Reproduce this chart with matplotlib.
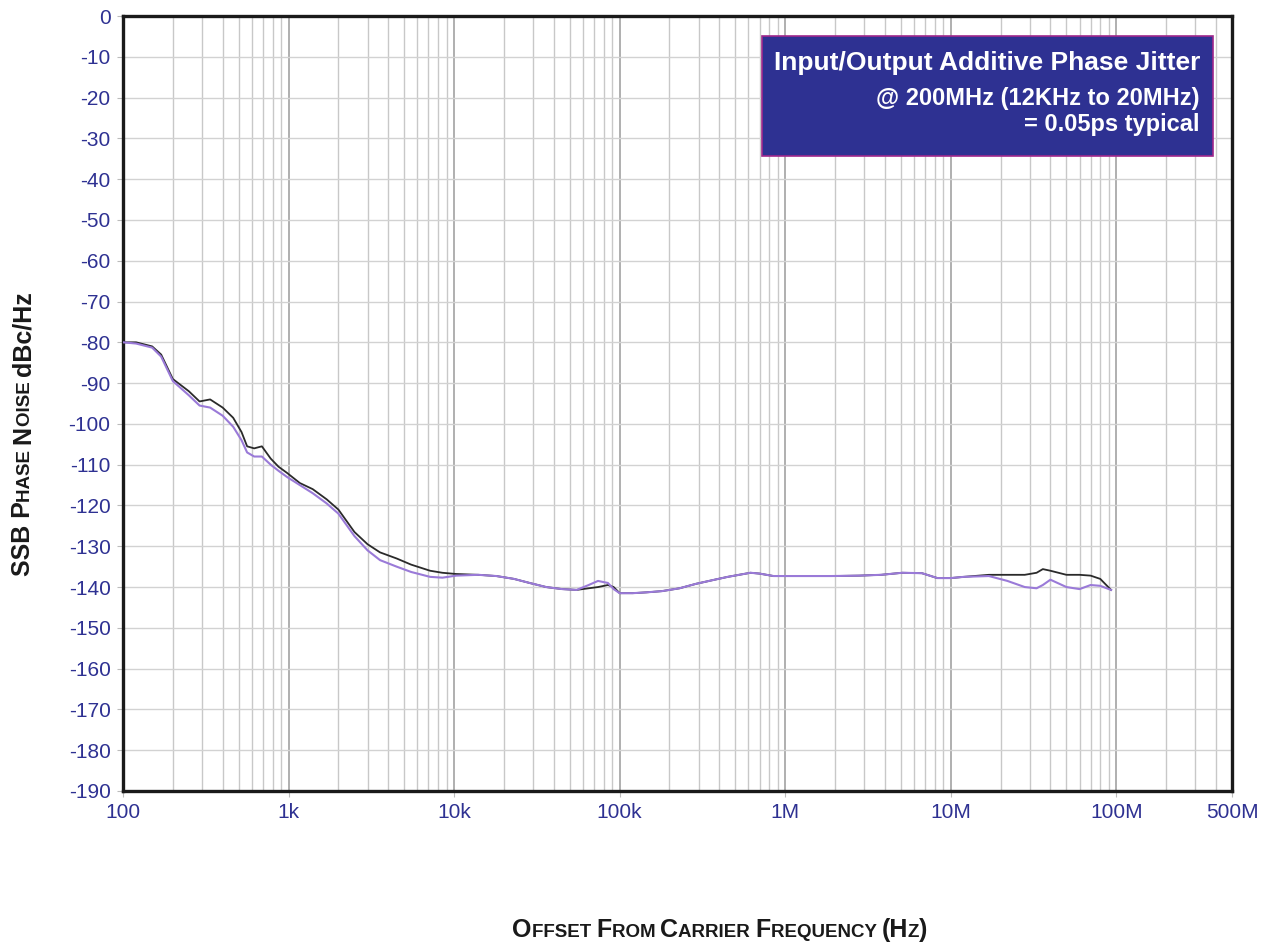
import matplotlib
matplotlib.use("Agg")
import matplotlib.pyplot as plt
from matplotlib.ticker import FixedLocator, NullFormatter
from matplotlib.patches import Rectangle

plt.rcParams['font.family'] = ['Liberation Sans', 'DejaVu Sans']

# offset frequency (Hz) and phase noise (dBc/Hz)
freq = [100, 120, 150, 170, 200, 250, 290, 336, 400, 463, 520, 562, 620, 690, 780, 870,
        978, 1170, 1400, 1700, 2000, 2500, 3000, 3570, 4500, 5500, 7160, 8500, 10300,
        14000, 18000, 23000, 28600, 36000, 45000, 55000, 65000, 74000, 85000, 92000,
        100000, 120000, 145000, 180000, 230000, 290000, 365000, 450000, 617000, 700000,
        850000, 1.2e6, 1.9e6, 2.8e6, 3.8e6, 5.1e6, 6.7e6, 8.3e6, 10e6, 12e6, 17e6, 22e6,
        28e6, 33e6, 36e6, 40e6, 50e6, 60e6, 70e6, 80e6, 93e6]

noise_black = [-80, -80, -81, -83, -89, -92, -94.5, -94, -96, -98.5, -102, -105.5, -106,
               -105.5, -108.5, -110.5, -112, -114.5, -116, -118.5, -121, -126.5, -129.5,
               -131.5, -133, -134.5, -136, -136.5, -136.8, -137, -137.3, -138, -139, -140,
               -140.5, -140.7, -140.3, -140, -139.5, -140, -141.5, -141.5, -141.3, -141,
               -140.3, -139.2, -138.3, -137.5, -136.5, -136.7, -137.3, -137.3, -137.3,
               -137.2, -137, -136.5, -136.6, -137.8, -137.8, -137.5, -137, -137, -137,
               -136.5, -135.6, -136, -137, -137, -137.2, -138, -140.7]

noise_purple = [-80, -80.3, -81.3, -83.5, -89.5, -93, -95.5, -96, -98, -100.7, -104, -107,
                -108, -108, -110, -111.5, -113, -115, -117, -119.5, -122, -127.5, -131,
                -133.4, -135, -136.3, -137.5, -137.7, -137.2, -137, -137.3, -138, -139,
                -140, -140.5, -140.7, -139.5, -138.5, -139, -140.5, -141.5, -141.5, -141.3,
                -141, -140.3, -139.2, -138.3, -137.5, -136.5, -136.7, -137.3, -137.3,
                -137.3, -137.2, -137, -136.5, -136.6, -137.8, -137.8, -137.5, -137.3,
                -138.5, -140, -140.3, -139.5, -138.2, -140, -140.5, -139.5, -139.7, -140.7]

x_ticks = [1e2, 1e3, 1e4, 1e5, 1e6, 1e7, 1e8, 5e8]
x_labels = ['100', '1k', '10k', '100k', '1M', '10M', '100M', '500M']
y_ticks = list(range(0, -200, -10))

blue = '#2e3192'

fig = plt.figure(figsize=(12.64, 9.44), dpi=100)
ax = fig.add_axes([123 / 1264, 153 / 944, (1232 - 123) / 1264, (791 - 16) / 944])
ax.set_xscale('log')
ax.set_xlim(100, 5e8)
ax.set_ylim(-190, 0)

minors = [m * 10 ** e for e in range(2, 9) for m in range(2, 10) if m * 10 ** e < 5e8]
ax.xaxis.set_major_locator(FixedLocator(x_ticks))
ax.xaxis.set_minor_locator(FixedLocator(minors))
ax.xaxis.set_minor_formatter(NullFormatter())
ax.set_xticks(x_ticks, x_labels)
ax.set_yticks(y_ticks, [str(v) for v in y_ticks])

ax.grid(which='major', axis='x', color='#9a9a9a', lw=1.1)
ax.grid(which='minor', axis='x', color='#c8c8c8', lw=1.0)
ax.grid(which='major', axis='y', color='#d2d2d2', lw=1.0)
ax.set_axisbelow(True)

ax.tick_params(axis='both', which='major', labelsize=15, labelcolor=blue, color='#bbbbbb',
               length=4, pad=5)
ax.tick_params(axis='x', which='minor', length=0)
for s in ax.spines.values():
    s.set_linewidth(2.4)
    s.set_color('#1a1a1a')

ax.plot(freq, noise_black, color='#2a2a2a', lw=1.3, zorder=3)
ax.plot(freq, noise_purple, color='#9a7ad8', lw=1.5, zorder=4)

# annotation box
box = Rectangle((762 / 1264, 1 - 156 / 944), (1213 - 762) / 1264, 120 / 944,
                transform=fig.transFigure, facecolor=blue, edgecolor='#a0288c', lw=1.2,
                zorder=5)
fig.patches.append(box)
fig.text(1200 / 1264, 1 - 63 / 944, 'Input/Output Additive Phase Jitter', ha='right',
         va='center', color='white', fontsize=19, fontweight='bold', zorder=6)
fig.text(1200 / 1264, 1 - 98 / 944, '@ 200MHz (12KHz to 20MHz)', ha='right',
         va='center', color='white', fontsize=17, fontweight='bold', zorder=6)
fig.text(1200 / 1264, 1 - 124 / 944, '= 0.05ps typical', ha='right',
         va='center', color='white', fontsize=17, fontweight='bold', zorder=6)

# small-caps axis titles built from pieces
renderer = fig.canvas.get_renderer()


def piece_width(s, size):
    t = fig.text(0, 0, s, fontsize=size, fontweight='bold')
    w = t.get_window_extent(renderer).width
    t.remove()
    return w


def small_caps(pieces, cx, cy, rotation=0):
    widths = [piece_width(s, sz) for s, sz in pieces]
    total = sum(widths)
    pos = -total / 2
    for (s, sz), w in zip(pieces, widths):
        if rotation == 0:
            x, y = cx + pos, cy
        else:
            x, y = cx, cy + pos
        fig.text(x / 1264, y / 944, s, fontsize=sz, fontweight='bold', color='#1a1a1a',
                 rotation=rotation, rotation_mode='anchor', ha='left', va='baseline')
        pos += w


big, small = 18, 13.5
small_caps([('O', big), ('FFSET ', small), ('F', big), ('ROM ', small), ('C', big),
            ('ARRIER ', small), ('F', big), ('REQUENCY ', small), ('(H', big), ('Z', small),
            (')', big)], 720, 944 - 937)
small_caps([('SSB P', big), ('HASE ', small), ('N', big), ('OISE ', small),
            ('dBc/Hz', big)], 30, 944 - 434, rotation=90)

fig.savefig('out.png', dpi=100)
